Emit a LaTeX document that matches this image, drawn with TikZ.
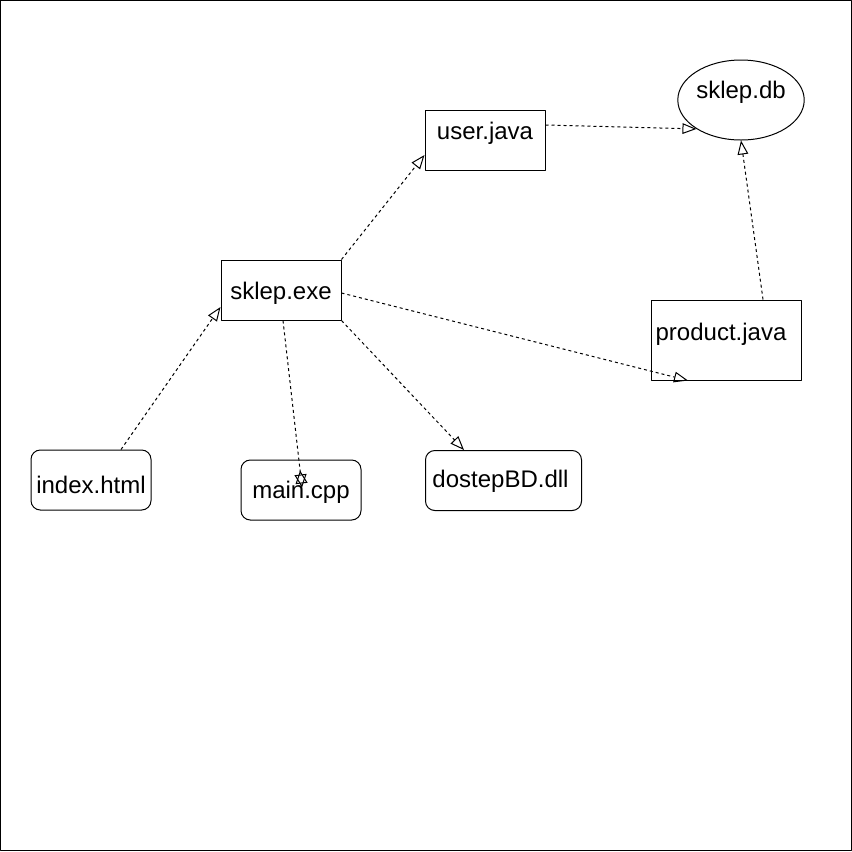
\documentclass[tikz,border=0pt]{standalone}
\usepackage{fontspec}
\setmainfont{Liberation Sans}
\usetikzlibrary{arrows.meta,shapes.geometric,calc}
\newcommand{\lbl}[2]{\raisebox{#1}[0pt][0pt]{#2}}

\begin{document}
\begin{tikzpicture}[x=0.75pt,y=-0.75pt,line join=bevel,
  box/.style={draw,line width=0.75pt,inner sep=0pt,minimum width=90pt,minimum height=45pt,font=\fontsize{18}{21}\selectfont},
  rbox/.style={box,rounded corners=7pt},
  dep/.style={-{Triangle[open,length=10.5pt,width=8pt]},line width=0.75pt,dash pattern=on 2.25pt off 2.25pt},
  twin/.style={-{Triangle[open,reversed,length=9.75pt,width=9pt,sep=-6.75pt]Triangle[open,length=9.75pt,width=9pt,sep=-6.75pt]},line width=0.75pt,dash pattern=on 2.25pt off 2.25pt}]
%%
\useasboundingbox (0,0) rectangle (852,851);
\draw [line width=0.75pt] (0.5,0.5) rectangle (851.5,850.5);
\node (user) at (485,140) [box] {\lbl{0.75pt}{user.java}};
  \node (db) at (741,100) [box,ellipse,minimum height=60pt] {\lbl{1.5pt}{sklep.db}};
  \node (exe) at (281,290) [box] {\lbl{-6.75pt}{sklep.exe}};
  \node (product) at (726,340) [box,minimum width=112.5pt,minimum height=60pt] {\lbl{0pt}{product.java\hspace{7.5pt}}};
  \node (index) at (91,480) [rbox] {\lbl{-9.75pt}{index.html}};
  \node (main) at (301,490) [rbox] {\lbl{-6pt}{main.cpp}};
  \node (dll) at (503.5,480.5) [rbox,minimum width=117pt] {\lbl{-5.6pt}{dostepBD.dll\hspace{4.5pt}}};
  \draw [dep] ($(user.east)+(0,-15)$) -- (db.213);
  \draw [dep] ($(product.north)+(37,0)$) -- (db.south);
  \draw [dep] (exe.north east) -- ($(user.west)+(0,15)$);
  \draw [dep] ($(exe.east)+(0,3)$) -- ($(product.south)+(-38,0)$);
  \draw [dep] (exe.south east) -- ($(dll.north)+(-39.5,0)$);
  \draw [dep] ($(index.north)+(30,0)$) -- ($(exe.west)+(0,17)$);
  \draw [twin] ($(exe.south)+(2,0)$) -- ($(main.north)+(0,19)$);
%
\end{tikzpicture}
\end{document}
